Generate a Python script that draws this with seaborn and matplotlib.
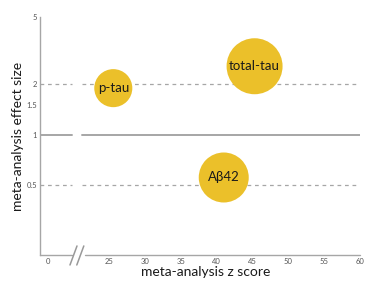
import matplotlib
matplotlib.use("Agg")
import matplotlib.pyplot as plt
import matplotlib.transforms as mtransforms
import seaborn as sns
import pandas as pd

# data
biomarkers = ["p-tau", "total-tau", "Aβ42"]
z_scores = [25.6, 45.3, 41.0]
effect_sizes = [1.89, 2.55, 0.557]
bubble_size = [750, 1625, 1296]

x_tick_values = [16.5, 25, 30, 35, 40, 45, 50, 55, 60]
x_tick_labels = ["0", "25", "30", "35", "40", "45", "50", "55", "60"]
y_tick_values = [0.5, 1, 1.5, 2, 5]
y_tick_labels = ["0.5", "1", "1.5", "2", "5"]
ref_dashed = [2, 0.5]
ref_solid = 1

df = pd.DataFrame({"biomarker": biomarkers, "z": z_scores,
                   "effect": effect_sizes, "n": bubble_size})

sns.set_theme(style="white")
plt.rcParams["font.family"] = ["Lato", "DejaVu Sans"]

fig = plt.figure(figsize=(3.8, 2.94), dpi=100)
ax = fig.add_axes([40/380, 39/294, 320/380, 238/294])
ax.set_yscale("log")
xmin, xmax = 15.38, 60
brk_lo, brk_hi = 19.9, 21.3
gray = "#A6A6A6"

# reference lines with a break
for y in ref_dashed:
    ax.plot([xmin, brk_lo], [y, y], ls=(0, (3, 3)), color=gray, lw=0.9, zorder=1)
    ax.plot([brk_hi, xmax], [y, y], ls=(0, (3, 3)), color=gray, lw=0.9, zorder=1)
ax.plot([xmin, brk_lo], [ref_solid]*2, color=gray, lw=1.4, zorder=1)
ax.plot([brk_hi, xmax], [ref_solid]*2, color=gray, lw=1.4, zorder=1)

sns.scatterplot(data=df, x="z", y="effect", size="n", sizes=(750, 1625),
                size_norm=(750, 1625), color="#EBC02A", edgecolor="none",
                alpha=1, legend=False, ax=ax, zorder=3)
for b, x, y in zip(biomarkers, z_scores, effect_sizes):
    ax.text(x, y, b, ha="center", va="center", fontsize=9.5, color="#1a1a1a", zorder=4)

ax.set_xlim(xmin, xmax)
ax.set_ylim(0.193, 5)
ax.set_xticks(x_tick_values)
ax.set_xticklabels(x_tick_labels)
ax.set_yticks(y_tick_values)
ax.set_yticklabels(y_tick_labels)
ax.minorticks_off()
ax.tick_params(axis="both", length=0, labelsize=5.5, labelcolor="#555555", pad=2)

for s in ["top", "right", "bottom"]:
    ax.spines[s].set_visible(False)
ax.spines["left"].set_color(gray)
ax.spines["left"].set_linewidth(1.0)

# broken bottom axis line
tr = mtransforms.blended_transform_factory(ax.transData, ax.transAxes)
ax.plot([xmin, 19.8], [0, 0], color=gray, lw=1.0, transform=tr, clip_on=False)
ax.plot([21.6, xmax], [0, 0], color=gray, lw=1.0, transform=tr, clip_on=False)
for x0 in [20.05, 21.0]:
    ax.plot([x0 - 0.49, x0 + 0.49], [-0.042, 0.038], color="#999999", lw=1.1,
            transform=tr, clip_on=False)

ax.set_xlabel("meta-analysis z score", fontsize=10, color="#1a1a1a")
ax.set_ylabel("meta-analysis effect size", fontsize=10, color="#1a1a1a")
ax.xaxis.set_label_coords(0.519, -0.046)
ax.yaxis.set_label_coords(-0.05, 0.5)

fig.savefig("out.png", dpi=100)
